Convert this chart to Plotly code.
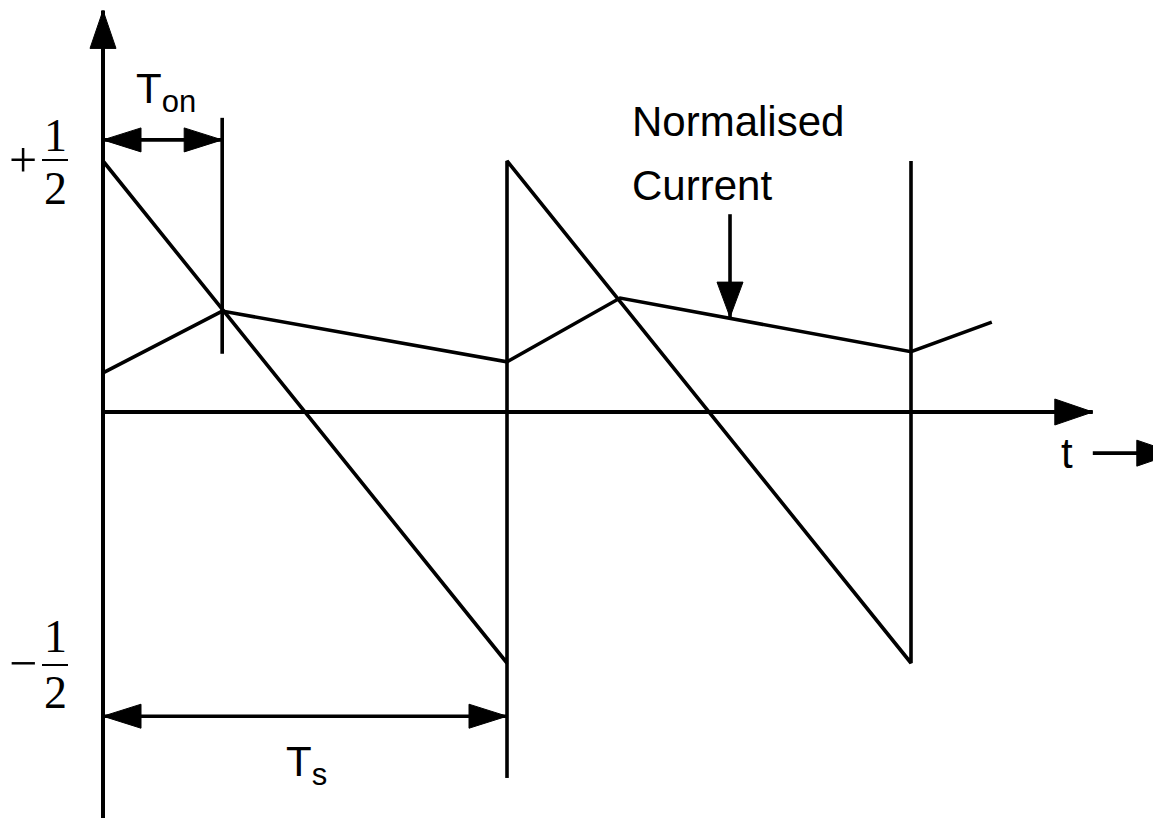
import plotly.graph_objects as go

# ---------------- data (normalised units: t in Ts, v in normalised amplitude) ----------------
saw_t = [0, 1, 1, 2, 2]
saw_v = [0.5, -0.5, 0.5, -0.5, 0.5]

current_t = [0, 0.295, 1, 1.28, 2, 2.2]
current_v = [0.078, 0.201, 0.1, 0.227, 0.12, 0.179]

t_on = 0.295
t_s = 1.0
ton_marker_v = [0.116, 0.586]      # vertical Ton marker extent
ts_marker_v = [-0.5, -0.729]       # extension of the Ts edge
ton_arrow_v = 0.542
ts_arrow_v = -0.606
cur_arrow_t = 1.552
cur_arrow_v = [0.394, 0.189]
x_axis_t = [0, 2.45]
y_axis_v = [-0.84, 0.80]
t_arrow_t = [2.45, 2.653]
t_arrow_v = -0.082

# ---------------- geometry / calibration (window pixels) ----------------
W, H = 1161, 818
PAGE = 8.0                  # default body margin of the html page
X0_PX, SX = 103.0, 404.0    # window pixel of t=0, pixels per unit t
V0_PX, SY = 412.0, 502.0    # window pixel of v=0, pixels per unit v


def px2t(px):
    return (px - X0_PX) / SX


def py2v(py):
    return (V0_PX - py) / SY


def t2px(t):
    return X0_PX + t * SX


def v2py(v):
    return V0_PX - v * SY


xr = [px2t(PAGE), px2t(PAGE + W)]
yr = [py2v(PAGE + H), py2v(PAGE)]

BLACK = "black"
fig = go.Figure()


def line(ts, vs, w=3.6):
    fig.add_trace(go.Scatter(x=ts, y=vs, mode="lines",
                             line=dict(color=BLACK, width=w),
                             hoverinfo="skip", showlegend=False))


def head(tip_t, tip_v, dx, dy, L=38, Wd=12.5):
    tx, ty = t2px(tip_t), v2py(tip_v)
    bx, by = tx - dx * L, ty - dy * L
    px_, py_ = -dy, dx
    xs = [tx, bx + Wd * px_, bx - Wd * px_, tx]
    ys = [ty, by + Wd * py_, by - Wd * py_, ty]
    fig.add_trace(go.Scatter(x=[px2t(a) for a in xs], y=[py2v(b) for b in ys],
                             mode="lines", fill="toself", fillcolor=BLACK,
                             line=dict(color=BLACK, width=1),
                             hoverinfo="skip", showlegend=False))


# axes
line([0, 0], y_axis_v, 4)
head(0, y_axis_v[1], 0, -1, L=38, Wd=13)
line(x_axis_t, [0, 0], 4)
head(x_axis_t[1], 0, 1, 0, L=38, Wd=13)

# sawtooth and current
line(saw_t, saw_v, 3.6)
line(current_t, current_v, 3.6)

# markers
line([t_on, t_on], ton_marker_v, 3.6)
line([t_s, t_s], ts_marker_v, 3.6)

# Ton dimension arrow
line([0, t_on], [ton_arrow_v, ton_arrow_v], 3.6)
head(0, ton_arrow_v, -1, 0, L=38, Wd=12)
head(t_on, ton_arrow_v, 1, 0, L=38, Wd=12)

# Ts dimension arrow
line([0, t_s], [ts_arrow_v, ts_arrow_v], 3.6)
head(0, ts_arrow_v, -1, 0, L=38, Wd=12)
head(t_s, ts_arrow_v, 1, 0, L=38, Wd=12)

# current pointer arrow
line([cur_arrow_t, cur_arrow_t], cur_arrow_v, 3.6)
head(cur_arrow_t, cur_arrow_v[1], 0, 1, L=35, Wd=13)

# t arrow
line(t_arrow_t, [t_arrow_v, t_arrow_v], 3.6)
head(t_arrow_t[1], t_arrow_v, 1, 0, L=38, Wd=13)

SANS = "Liberation Sans, Arial, sans-serif"
SERIF = "Liberation Serif, Times New Roman, serif"


def text(s, px, py, size=42, fam=SANS, xanchor="left", yanchor="middle"):
    fig.add_annotation(x=px2t(px), y=py2v(py), text=s, showarrow=False,
                       xanchor=xanchor, yanchor=yanchor,
                       font=dict(family=fam, size=size, color=BLACK))


text("T<sub><span style='font-size:31px'>on</span></sub>", 134, 92, 42)
text("Normalised", 630, 121, 42)
text("Current", 630, 185, 42)
text("t", 1059, 453, 42)
text("T<sub><span style='font-size:31px'>s</span></sub>", 284, 765, 42)

# fractions
text("1", 55, 135, 46, SERIF, xanchor="center")
text("2", 55, 188, 46, SERIF, xanchor="center")
text("+", 23, 160, 50, SERIF, xanchor="center")
text("1", 55, 636, 46, SERIF, xanchor="center")
text("2", 55, 692, 46, SERIF, xanchor="center")
text("\u2212", 23, 663, 50, SERIF, xanchor="center")

for yb in (160, 665):
    fig.add_shape(type="line", x0=px2t(42), x1=px2t(68), y0=py2v(yb), y1=py2v(yb),
                  line=dict(color=BLACK, width=2))

fig.update_layout(
    width=W, height=H,
    margin=dict(l=0, r=0, t=0, b=0),
    paper_bgcolor="white", plot_bgcolor="white",
    xaxis=dict(range=xr, visible=False, fixedrange=True),
    yaxis=dict(range=yr, visible=False, fixedrange=True),
    showlegend=False,
)

fig.write_html("out.html")
